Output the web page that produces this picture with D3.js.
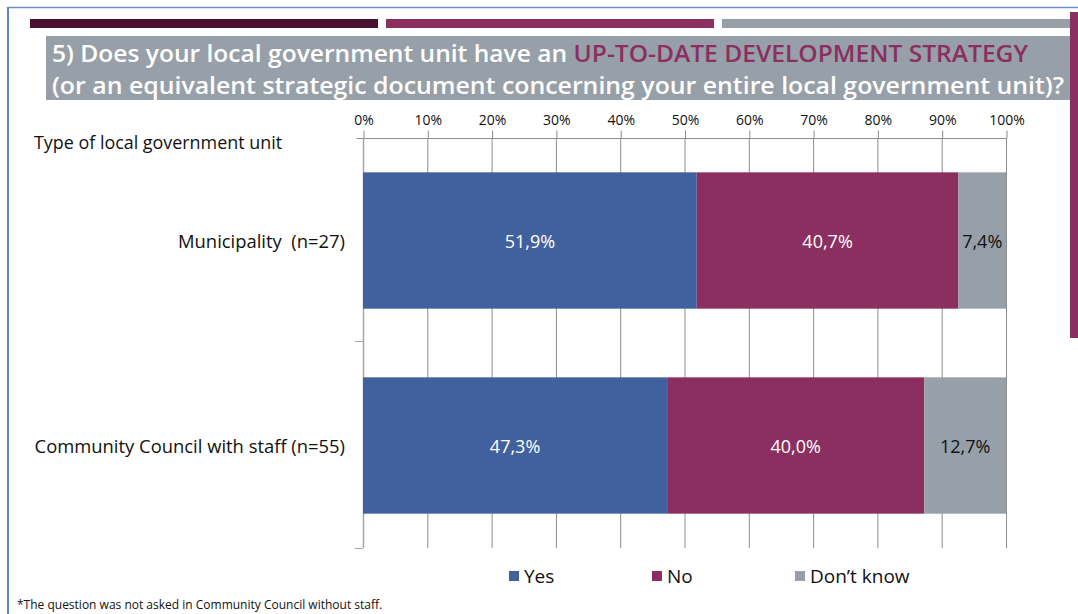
<!DOCTYPE html>
<html>
<head>
<meta charset="utf-8">
<script src="https://cdn.jsdelivr.net/npm/d3@7/dist/d3.min.js"></script>
<style>
  html, body { margin: 0; padding: 0; background: #fff; }
  svg { display: block; }
  text { font-family: "Open Sans", "Noto Sans", sans-serif; }
</style>
</head>
<body>
<svg id="chart" width="1078" height="614"></svg>
<script>
// Survey answers per type of local government unit (percent)
const categories = ["Municipality  (n=27)", "Community Council with staff (n=55)"];
const seriesNames = ["Yes", "No", "Don’t know"];
const yesValues = [51.9, 47.3];
const noValues = [40.7, 40.0];
const dontKnowValues = [7.4, 12.7];
const tickValues = [0, 10, 20, 30, 40, 50, 60, 70, 80, 90, 100];
const colors = ["#41609e", "#8b2f60", "#979fa8"];
const labelColors = ["#ffffff", "#ffffff", "#111111"];

const svg = d3.select("#chart");

// Page frame and decorative header bands
svg.append("line").attr("x1", 8).attr("x2", 1078).attr("y1", 7.5).attr("y2", 7.5)
  .attr("stroke", "#6a8fca").attr("stroke-width", 1.5);
svg.append("line").attr("x1", 8).attr("x2", 8).attr("y1", 7).attr("y2", 614)
  .attr("stroke", "#5b86c8").attr("stroke-width", 2);
svg.append("rect").attr("x", 30).attr("y", 19).attr("width", 348).attr("height", 9).attr("fill", "#4a1230");
svg.append("rect").attr("x", 386).attr("y", 19).attr("width", 328).attr("height", 9).attr("fill", "#8b2f60");
svg.append("rect").attr("x", 722).attr("y", 19).attr("width", 356).attr("height", 9).attr("fill", "#979fa8");

// Question title band
svg.append("rect").attr("x", 46).attr("y", 36).attr("width", 1032).attr("height", 64).attr("fill", "#979fa8");
svg.append("rect").attr("x", 1070).attr("y", 12).attr("width", 8).attr("height", 326).attr("fill", "#8b2f60");
const titleFont = "'Open Sans', sans-serif";
const t1 = svg.append("text").attr("x", 52).attr("y", 62)
  .attr("font-family", titleFont).attr("font-size", 23.5).attr("font-weight", 600)
  .attr("textLength", 976).attr("lengthAdjust", "spacingAndGlyphs");
t1.append("tspan").attr("fill", "#ffffff").text("5) Does your local government unit have an ");
t1.append("tspan").attr("fill", "#8b2f60").text("UP-TO-DATE DEVELOPMENT STRATEGY");
svg.append("text").attr("x", 52).attr("y", 94)
  .attr("font-family", titleFont).attr("font-size", 23.5).attr("font-weight", 600)
  .attr("fill", "#ffffff")
  .attr("textLength", 1012).attr("lengthAdjust", "spacingAndGlyphs")
  .text("(or an equivalent strategic document concerning your entire local government unit)?");

// Scales
const x = d3.scaleLinear().domain([0, 100]).range([363, 1006]);
const y = d3.scaleBand().domain(categories).range([138, 548]).paddingInner(0.335).paddingOuter(0.1675);

// Vertical gridlines
svg.append("g").selectAll("line").data(tickValues.slice(1)).join("line")
  .attr("x1", d => x(d) + 0.5).attr("x2", d => x(d) + 0.5)
  .attr("y1", 138).attr("y2", 548)
  .attr("stroke", "#8c8c8c").attr("stroke-width", 1);

// Top percentage axis
const xAxis = d3.axisTop(x).tickValues(tickValues).tickFormat(d => d + "%").tickSize(8).tickSizeOuter(0);
const gx = svg.append("g").attr("transform", "translate(0.5,138.5)").call(xAxis);
gx.select(".domain").attr("stroke", "#8c8c8c").attr("d", "M356,0H" + x(100));
gx.selectAll(".tick line").attr("stroke", "#8c8c8c");
gx.selectAll(".tick text").attr("font-size", 14).attr("fill", "#111").attr("dy", "-0.15em")
  .attr("font-family", "'Open Sans', sans-serif");

// Left category axis line with band boundary ticks
svg.append("line").attr("x1", 363.5).attr("x2", 363.5).attr("y1", 138).attr("y2", 548)
  .attr("stroke", "#a6a6a6").attr("stroke-width", 1.5);
svg.append("g").selectAll("line").data([341, 548]).join("line")
  .attr("x1", 355).attr("x2", 363).attr("y1", d => d + 0.5).attr("y2", d => d + 0.5)
  .attr("stroke", "#a6a6a6");

// Stacked bars
const rows = categories.map((c, i) => ({ cat: c, vals: [yesValues[i], noValues[i], dontKnowValues[i]] }));
const segs = [];
rows.forEach(r => {
  let acc = 0;
  r.vals.forEach((v, k) => { segs.push({ cat: r.cat, k, v, x0: acc, x1: acc + v }); acc += v; });
});
svg.append("g").selectAll("rect").data(segs).join("rect")
  .attr("x", d => x(d.x0)).attr("width", d => x(d.x1) - x(d.x0))
  .attr("y", d => y(d.cat)).attr("height", y.bandwidth())
  .attr("fill", d => colors[d.k]);

svg.append("g").selectAll("text").data(segs).join("text")
  .attr("x", d => (x(d.x0) + x(d.x1)) / 2)
  .attr("y", d => y(d.cat) + y.bandwidth() / 2)
  .attr("text-anchor", "middle").attr("dominant-baseline", "central")
  .attr("font-size", 18).attr("fill", d => labelColors[d.k])
  .text(d => d.v.toFixed(1).replace(".", ",") + "%");

// Category labels
svg.append("g").selectAll("text").data(categories).join("text")
  .attr("x", 345).attr("y", d => y(d) + y.bandwidth() / 2)
  .attr("text-anchor", "end").attr("dominant-baseline", "central")
  .attr("font-size", 18.4).attr("fill", "#111")
  .attr("xml:space", "preserve")
  .text(d => d);

svg.append("text").attr("x", 34).attr("y", 149).attr("font-size", 17.9).attr("fill", "#111")
  .text("Type of local government unit");

// Legend
const legendX = [509, 652, 795];
const lg = svg.append("g").selectAll("g").data(seriesNames).join("g")
  .attr("transform", (d, i) => `translate(${legendX[i]},571)`);
lg.append("rect").attr("width", 10).attr("height", 10).attr("fill", (d, i) => colors[i]);
lg.append("text").attr("x", 15).attr("y", 5).attr("dominant-baseline", "central")
  .attr("font-size", 19).attr("fill", "#111").text(d => d);

// Footnote
svg.append("text").attr("x", 17).attr("y", 609).attr("font-size", 12).attr("fill", "#111")
  .text("*The question was not asked in Community Council without staff.");
</script>
</body>
</html>
